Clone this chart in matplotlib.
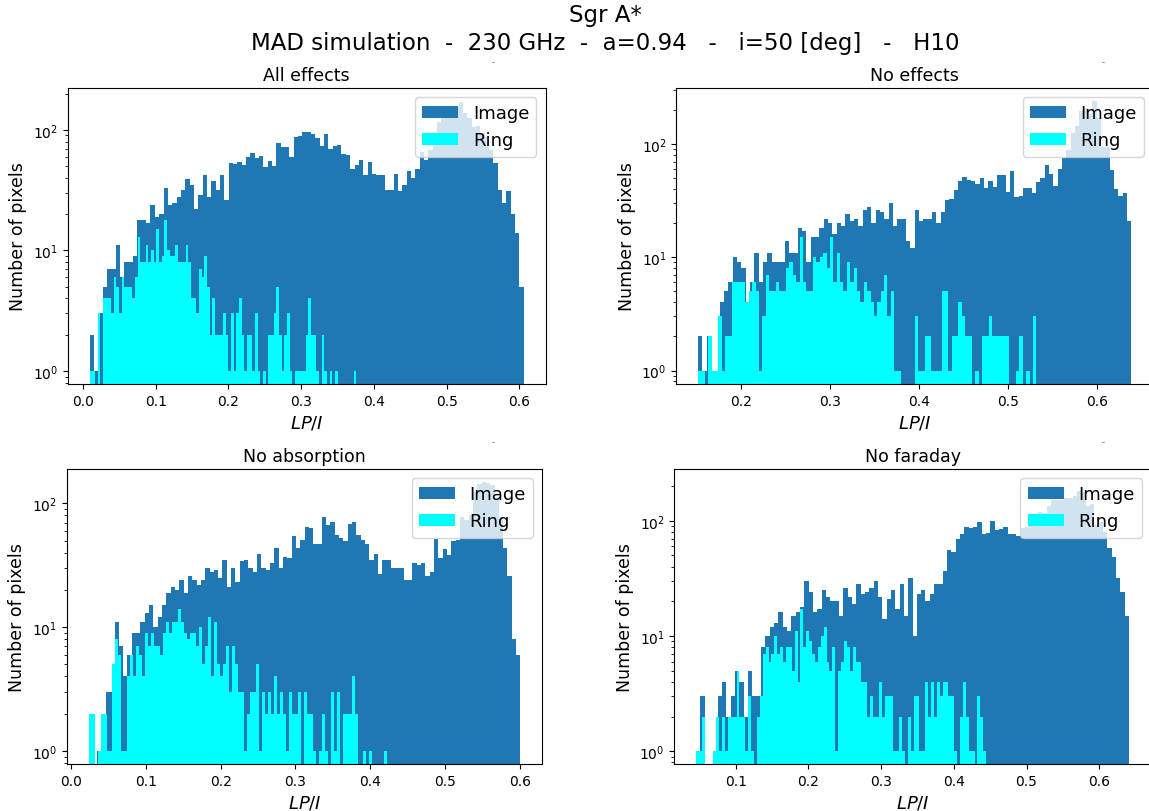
import numpy as np
import matplotlib
matplotlib.use('Agg')
import matplotlib.pyplot as plt

# Histogram counts (100 bins each)
titles = ['All effects', 'No effects', 'No absorption', 'No faraday']

# bin ranges (LP/I) for the whole image and for the ring
image_range = [(0.0092, 0.606), (0.1513, 0.639), (0.0231, 0.601), (0.0454, 0.641)]
ring_range = [(0.0092, 0.3756), (0.1513, 0.532), (0.0231, 0.423), (0.0454, 0.4445)]

image_all = [2, 1, 3, 5, 7, 7, 11, 6, 8, 8,
             9, 18, 18, 17, 24, 19, 20, 33, 24, 25,
             28, 32, 39, 35, 22, 29, 42, 28, 38, 32,
             42, 26, 53, 52, 54, 51, 60, 64, 59, 61,
             49, 55, 50, 78, 72, 72, 60, 88, 89, 97,
             97, 92, 85, 73, 93, 70, 73, 75, 63, 62,
             47, 51, 56, 42, 54, 43, 42, 42, 32, 32,
             43, 31, 35, 46, 40, 47, 66, 56, 68, 95,
             117, 125, 137, 147, 155, 170, 137, 125, 105, 108,
             95, 88, 68, 53, 32, 25, 31, 20, 14, 5]
ring_all = [1, 1, 0, 3, 0, 4, 4, 4, 3, 6,
            5, 3, 6, 5, 5, 5, 4, 6, 13, 8,
            8, 11, 8, 10, 8, 15, 8, 9, 18, 10,
            9, 9, 11, 8, 8, 8, 11, 8, 4, 4,
            3, 7, 6, 9, 5, 2, 4, 2, 2, 2,
            3, 2, 1, 3, 1, 3, 4, 2, 1, 2,
            2, 1, 3, 1, 0, 1, 0, 2, 2, 3,
            5, 2, 1, 2, 3, 1, 0, 1, 1, 1,
            1, 2, 4, 2, 2, 1, 0, 2, 1, 0,
            1, 0, 1, 0, 0, 0, 0, 0, 0, 1]

image_none = [2, 1, 2, 1, 1, 4, 5, 6, 10, 9,
              8, 4, 6, 11, 6, 9, 11, 9, 9, 9,
              14, 11, 11, 18, 17, 9, 15, 15, 18, 22,
              20, 16, 20, 19, 24, 21, 22, 19, 26, 28,
              20, 26, 25, 22, 30, 19, 22, 22, 14, 12,
              26, 21, 22, 22, 25, 20, 25, 32, 33, 39,
              47, 51, 48, 47, 44, 50, 41, 47, 42, 53,
              53, 38, 58, 34, 35, 41, 41, 37, 46, 50,
              65, 54, 43, 60, 75, 88, 126, 145, 196, 210,
              184, 240, 170, 95, 94, 59, 40, 35, 37, 21]
ring_none = [1, 1, 0, 2, 1, 1, 3, 1, 2, 2,
             6, 6, 6, 6, 4, 5, 6, 5, 1, 3,
             7, 5, 5, 6, 5, 5, 8, 9, 7, 6,
             15, 6, 5, 5, 10, 9, 10, 11, 8, 15,
             6, 11, 6, 5, 9, 6, 8, 5, 4, 6,
             5, 4, 3, 4, 5, 7, 3, 5, 1, 1,
             0, 0, 0, 0, 3, 1, 1, 2, 2, 1,
             1, 1, 5, 5, 1, 2, 2, 4, 3, 2,
             2, 0, 1, 0, 2, 2, 3, 2, 2, 2,
             2, 2, 0, 0, 1, 2, 0, 1, 0, 3]

image_noabs = [2, 0, 1, 2, 3, 3, 11, 7, 4, 6,
               9, 9, 11, 13, 15, 10, 12, 15, 19, 21,
               20, 24, 19, 26, 24, 22, 24, 30, 28, 29,
               25, 35, 21, 30, 23, 34, 35, 30, 28, 39,
               30, 29, 33, 44, 30, 37, 36, 55, 44, 51,
               65, 63, 47, 47, 78, 67, 71, 56, 53, 50,
               68, 71, 56, 51, 47, 35, 39, 27, 35, 35,
               30, 30, 30, 24, 24, 33, 32, 33, 26, 28,
               52, 36, 43, 38, 50, 51, 78, 73, 80, 125,
               145, 148, 147, 140, 108, 76, 44, 26, 8, 6]
ring_noabs = [2, 2, 0, 1, 2, 2, 1, 1, 5, 8,
              6, 1, 1, 4, 6, 4, 7, 6, 4, 9,
              7, 9, 7, 7, 6, 9, 11, 9, 11, 11,
              14, 11, 9, 8, 9, 9, 7, 10, 5, 7,
              12, 4, 11, 5, 4, 5, 7, 3, 7, 5,
              3, 3, 1, 2, 3, 3, 5, 1, 3, 2,
              3, 2, 4, 2, 3, 2, 1, 3, 2, 2,
              3, 0, 3, 2, 2, 1, 0, 1, 2, 1,
              0, 3, 1, 3, 0, 2, 2, 2, 4, 2,
              0, 0, 1, 0, 1, 0, 0, 0, 0, 1]

image_nofar = [1, 3, 0, 0, 1, 3, 4, 2, 3, 5,
               4, 2, 5, 3, 3, 8, 10, 12, 13, 16,
               12, 11, 15, 16, 18, 30, 24, 16, 17, 25,
               22, 20, 20, 15, 26, 22, 19, 28, 23, 24,
               26, 30, 22, 14, 21, 25, 17, 28, 15, 32,
               10, 23, 25, 20, 23, 28, 28, 37, 56, 54,
               69, 76, 88, 86, 89, 97, 76, 78, 100, 83,
               85, 88, 76, 76, 73, 86, 88, 104, 108, 120,
               117, 133, 152, 152, 152, 156, 158, 165, 180, 178,
               135, 140, 92, 97, 80, 58, 48, 32, 24, 15]
ring_nofar = [1, 1, 2, 0, 0, 0, 1, 2, 1, 2,
              1, 2, 2, 2, 5, 2, 2, 1, 3, 1,
              0, 2, 3, 7, 8, 6, 7, 10, 7, 8,
              6, 8, 8, 5, 11, 4, 17, 8, 11, 9,
              7, 6, 8, 10, 12, 6, 5, 8, 1, 5,
              6, 9, 8, 5, 8, 6, 6, 4, 4, 2,
              3, 2, 2, 4, 2, 3, 3, 3, 1, 1,
              2, 1, 0, 2, 1, 3, 3, 1, 1, 4,
              2, 4, 2, 4, 3, 4, 4, 3, 3, 1,
              0, 2, 4, 2, 1, 1, 0, 3, 2, 1]

images = [image_all, image_none, image_noabs, image_nofar]
rings = [ring_all, ring_none, ring_noabs, ring_nofar]
ylims = [(0.78, 223), (0.76, 313), (0.785, 190), (0.776, 281)]

# axes boxes in pixels: left, top, right, bottom (right panels run past the edge)
W, H = 1149, 812
boxes = [(68, 89, 545.5, 385), (676.4, 89, 1153, 385),
         (67, 470, 542, 765), (674.3, 470, 1150.7, 765)]

fig = plt.figure(figsize=(W / 100, H / 100), dpi=100)

for i in range(4):
    l, t, r, b = boxes[i]
    ax = fig.add_axes([l / W, 1 - b / H, (r - l) / W, (b - t) / H])
    e_img = np.linspace(image_range[i][0], image_range[i][1], len(images[i]) + 1)
    e_ring = np.linspace(ring_range[i][0], ring_range[i][1], len(rings[i]) + 1)
    ax.hist(e_img[:-1], bins=e_img, weights=images[i], color='#1f77b4', label='Image', log=True)
    ax.hist(e_ring[:-1], bins=e_ring, weights=rings[i], color='cyan', label='Ring', log=True)
    ax.set_ylim(ylims[i])
    ax.set_title(titles[i], fontsize=12.5)
    ax.set_xlabel('$LP/I$', fontsize=13)
    ax.set_ylabel('Number of pixels', fontsize=12.5)
    ax.legend(loc='upper right', fontsize=13)

fig.text(605 / W, 1 - 4 / H, 'Sgr A*\nMAD simulation  -  230 GHz  -  a=0.94   -   i=50 [deg]   -   H10',
         ha='center', va='top', fontsize=16.5, linespacing=1.3)

# small stray marks above each panel
for (mx, my) in [(493, 63), (1103, 63), (493, 443), (1103, 443)]:
    fig.text(mx / W, 1 - my / H, '-', ha='center', va='center', fontsize=6, color='0.4')

fig.savefig('out.png', dpi=100)
